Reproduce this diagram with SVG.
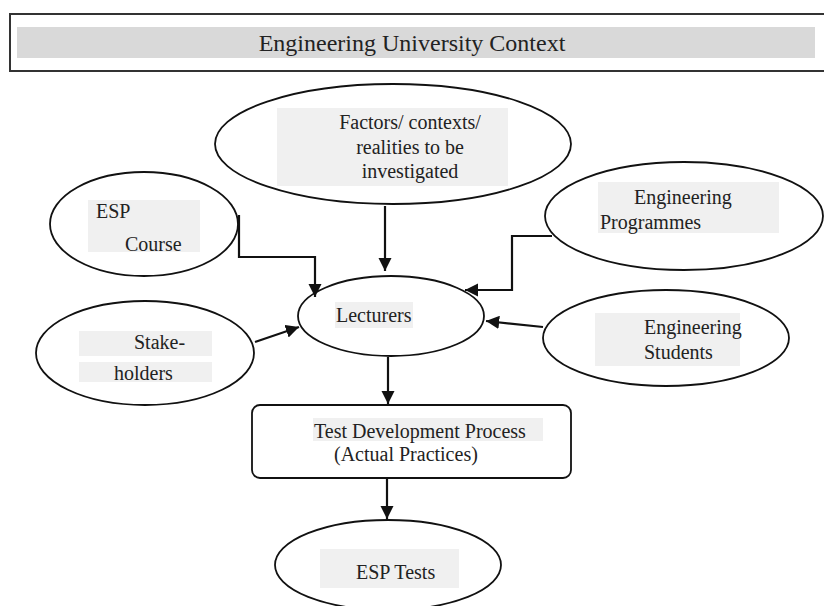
<svg xmlns="http://www.w3.org/2000/svg" width="824" height="606" viewBox="0 0 824 606">
<defs>
<style>
.shape{fill:#fff;stroke:#111;stroke-width:1.8}
.hl{fill:#f0f0f0}
.t{font-family:"Liberation Serif","Times New Roman",serif;font-size:20px;fill:#222}
.conn{fill:none;stroke:#111;stroke-width:2.2}
</style>
<marker id="ah" viewBox="0 0 10 10" refX="10" refY="5" markerWidth="6" markerHeight="6" orient="auto" markerUnits="strokeWidth">
<path d="M0,0 L10,5 L0,10 z" fill="#111"/>
</marker>
</defs>
<rect width="824" height="606" fill="#fff"/>
<g id="context">
<rect x="10" y="14" width="830" height="57" fill="#fff" stroke="#333" stroke-width="2"/>
<rect x="17" y="27" width="798" height="31" fill="#d9d9d9"/>
<text x="412" y="51" text-anchor="middle" font-family="Liberation Serif, Times New Roman, serif" font-size="24" fill="#222">Engineering University Context</text>
</g>
<g id="factors">
<ellipse class="shape" cx="393" cy="144" rx="178" ry="60"/>
<rect class="hl" x="277" y="108" width="231" height="78"/>
<text class="t" x="410" y="129" text-anchor="middle">Factors/ contexts/</text>
<text class="t" x="410" y="154" text-anchor="middle">realities to be</text>
<text class="t" x="410" y="178" text-anchor="middle">investigated</text>
</g>
<g id="esp-course">
<ellipse class="shape" cx="144" cy="224" rx="94" ry="52"/>
<rect class="hl" x="88" y="200" width="112" height="52"/>
<text class="t" x="96" y="218">ESP</text>
<text class="t" x="125" y="251">Course</text>
</g>
<g id="eng-programmes">
<ellipse class="shape" cx="684" cy="216" rx="139" ry="54"/>
<rect class="hl" x="598" y="182" width="181" height="51"/>
<text class="t" x="634" y="204">Engineering</text>
<text class="t" x="600" y="229">Programmes</text>
</g>
<g id="lecturers">
<ellipse class="shape" cx="391" cy="316" rx="93" ry="40"/>
<rect class="hl" x="335" y="302" width="78" height="26"/>
<text class="t" x="336" y="322">Lecturers</text>
</g>
<g id="stakeholders">
<ellipse class="shape" cx="145" cy="353" rx="109" ry="52"/>
<rect class="hl" x="79" y="331" width="133" height="25"/>
<rect class="hl" x="79" y="362" width="133" height="20"/>
<text class="t" x="134" y="349">Stake-</text>
<text class="t" x="114" y="380">holders</text>
</g>
<g id="eng-students">
<ellipse class="shape" cx="666" cy="338" rx="123" ry="48"/>
<rect class="hl" x="595" y="313" width="145" height="53"/>
<text class="t" x="644" y="334">Engineering</text>
<text class="t" x="644" y="359">Students</text>
</g>
<g id="test-dev">
<rect class="shape" x="252" y="405" width="319" height="73" rx="8"/>
<rect class="hl" x="313" y="418" width="230" height="23"/>
<text class="t" x="314" y="438">Test Development Process</text>
<text class="t" x="334" y="461">(Actual Practices)</text>
</g>
<g id="esp-tests">
<ellipse class="shape" cx="388" cy="565" rx="113" ry="45"/>
<rect class="hl" x="320" y="549" width="139" height="39"/>
<text class="t" x="356" y="579">ESP Tests</text>
</g>
<g id="connectors">
<path class="conn" d="M385,206 V271" marker-end="url(#ah)"/>
<path class="conn" d="M239,215 V257 H315 V297" marker-end="url(#ah)"/>
<path class="conn" d="M552,236 H512 V290 H465" marker-end="url(#ah)"/>
<path class="conn" d="M255,342 L299,327" marker-end="url(#ah)"/>
<path class="conn" d="M543,327 L486,321" marker-end="url(#ah)"/>
<path class="conn" d="M388,357 V404" marker-end="url(#ah)"/>
<path class="conn" d="M387,478 V519" marker-end="url(#ah)"/>
</g>
</svg>
